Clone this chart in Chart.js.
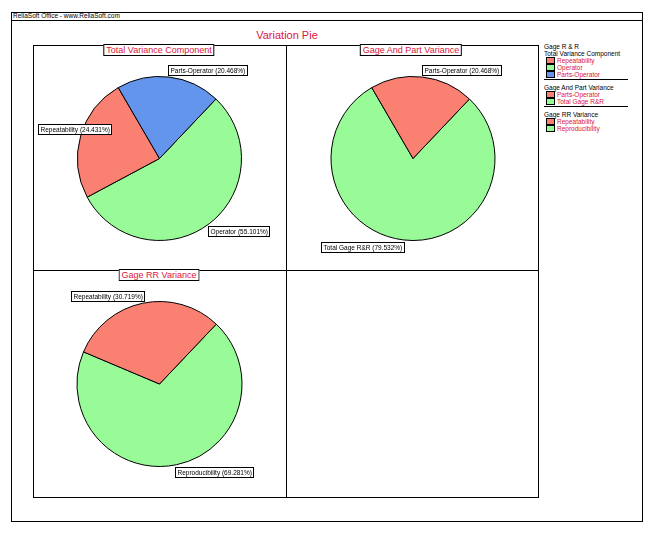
<!DOCTYPE html>
<html>
<head>
<meta charset="utf-8">
<script src="https://cdn.jsdelivr.net/npm/chart.js@4.4.1/dist/chart.umd.min.js"></script>
<style>
  body { margin: 0; background: #fff; font-family: "Liberation Sans", Arial, sans-serif; }
  #page { position: relative; width: 654px; height: 535px; }
  .box { position: absolute; border: 1px solid #000; box-sizing: border-box; }
  .abs { position: absolute; }
  .ptitle { position: absolute; background: #fff; border: 1px solid #000; color: #dc143c;
            font-size: 9px; line-height: 10px; padding: 0 2px; white-space: nowrap; transform: translateX(-50%); }
  canvas { position: absolute; }
  #legend { position: absolute; left: 544px; top: 43px; width: 90px; font-size: 6.5px; line-height: 7px; }
  .lg-head { color: #000; white-space: nowrap; }
  .lg-item { color: #dc143c; white-space: nowrap; height: 7px; }
  .lg-item span.sw { display: inline-block; width: 7px; height: 5px; border: 1px solid #000; margin: 0 2px 0 2px; vertical-align: -1px; }
  .lg-line { border-bottom: 1px solid #000; margin: 1px 6px 4px 0; }
</style>
</head>
<body>
<div id="page">
  <div class="box" style="left:11px; top:12px; width:632px; height:510px;"></div>
  <div class="abs" style="left:11px; top:20px; width:632px; height:1px; background:#000;"></div>
  <div class="abs" style="left:13px; top:12px; font-size:6.5px; line-height:8px;">ReliaSoft Office - www.ReliaSoft.com</div>
  <div class="abs" style="left:0; width:574px; top:29px; text-align:center; color:#dc143c; font-size:11px;">Variation Pie</div>

  <div class="box" style="left:33px; top:45px; width:506px; height:453px;"></div>
  <div class="abs" style="left:286px; top:45px; width:1px; height:453px; background:#000;"></div>
  <div class="abs" style="left:33px; top:270px; width:506px; height:1px; background:#000;"></div>

  <canvas id="c1" width="253" height="225" style="left:33px; top:46px;"></canvas>
  <canvas id="c2" width="252" height="225" style="left:287px; top:46px;"></canvas>
  <canvas id="c3" width="253" height="226" style="left:33px; top:271px;"></canvas>

  <div class="ptitle" style="left:159px; top:44px;">Total Variance Component</div>
  <div class="ptitle" style="left:411px; top:44px;">Gage And Part Variance</div>
  <div class="ptitle" style="left:159px; top:269px;">Gage RR Variance</div>

  <div id="legend"></div>
</div>
<script>
// Total Variance Component
const totalCats = ['Repeatability', 'Operator', 'Parts-Operator'];
const totalVals = [24.431, 55.101, 20.468];
// Gage And Part Variance
const partCats = ['Parts-Operator', 'Total Gage R&R'];
const partVals = [20.468, 79.532];
// Gage RR Variance
const rrCats = ['Repeatability', 'Reproducibility'];
const rrVals = [30.719, 69.281];

const SALMON = '#fa8072', GREEN = '#98fb98', BLUE = '#6495ed';
const totalColors = [SALMON, GREEN, BLUE];
const partColors = [SALMON, GREEN];
const rrColors = [SALMON, GREEN];

// order slices are drawn clockwise (as in the original)
const totalOrder = [1, 0, 2];
const partOrder = [1, 0];
const rrOrder = [1, 0];

// little boxed labels at the edge of each slice
const calloutPlugin = {
  id: 'callouts',
  afterDatasetsDraw(chart) {
    const ctx = chart.ctx;
    const meta = chart.getDatasetMeta(0);
    const ds = chart.data.datasets[0];
    ctx.save();
    ctx.font = '6.5px "Liberation Sans", Arial, sans-serif';
    ctx.textBaseline = 'middle';
    meta.data.forEach((arc, i) => {
      const mid = (arc.startAngle + arc.endAngle) / 2;
      const px = arc.x + Math.cos(mid) * arc.outerRadius;
      const py = arc.y + Math.sin(mid) * arc.outerRadius;
      const text = chart.data.labels[i] + ' (' + ds.data[i].toFixed(3) + '%)';
      const w = Math.round(ctx.measureText(text).width) + 4, h = 10;
      let x = px >= arc.x ? px - 1 : px - w + 1;
      let y = py < arc.y ? py - h - 2 : py + 2;
      x = Math.max(5, Math.min(chart.width - w - 5, x));
      x = Math.round(x) + 0.5; y = Math.round(y) + 0.5;
      ctx.fillStyle = '#fff';
      ctx.fillRect(x, y, w, h);
      ctx.strokeStyle = '#000';
      ctx.lineWidth = 1;
      ctx.strokeRect(x, y, w, h);
      ctx.fillStyle = '#000';
      ctx.fillText(text, x + 2, y + h / 2 + 0.5);
    });
    ctx.restore();
  }
};

function makePie(id, cats, vals, colors, order) {
  new Chart(document.getElementById(id), {
    type: 'pie',
    data: {
      labels: order.map(i => cats[i]),
      datasets: [{
        data: order.map(i => vals[i]),
        backgroundColor: order.map(i => colors[i]),
        borderColor: '#000',
        borderWidth: 1
      }]
    },
    options: {
      responsive: false,
      animation: false,
      rotation: 43.5,
      layout: { padding: 30 },
      plugins: { legend: { display: false }, tooltip: { enabled: false } }
    },
    plugins: [calloutPlugin]
  });
}

makePie('c1', totalCats, totalVals, totalColors, totalOrder);
makePie('c2', partCats, partVals, partColors, partOrder);
makePie('c3', rrCats, rrVals, rrColors, rrOrder);

// grouped legend on the right
const groups = [
  { head: ['Gage R & R', 'Total Variance Component'], cats: totalCats, colors: totalColors, line: true },
  { head: ['Gage And Part Variance'], cats: partCats, colors: partColors, line: true },
  { head: ['Gage RR Variance'], cats: rrCats, colors: rrColors, line: false }
];
const legend = document.getElementById('legend');
groups.forEach(g => {
  g.head.forEach(h => {
    const d = document.createElement('div');
    d.className = 'lg-head';
    d.textContent = h;
    legend.appendChild(d);
  });
  g.cats.forEach((c, i) => {
    const d = document.createElement('div');
    d.className = 'lg-item';
    d.innerHTML = '<span class="sw" style="background:' + g.colors[i] + '"></span>';
    d.appendChild(document.createTextNode(c));
    legend.appendChild(d);
  });
  if (g.line) {
    const l = document.createElement('div');
    l.className = 'lg-line';
    legend.appendChild(l);
  }
});
</script>
</body>
</html>
